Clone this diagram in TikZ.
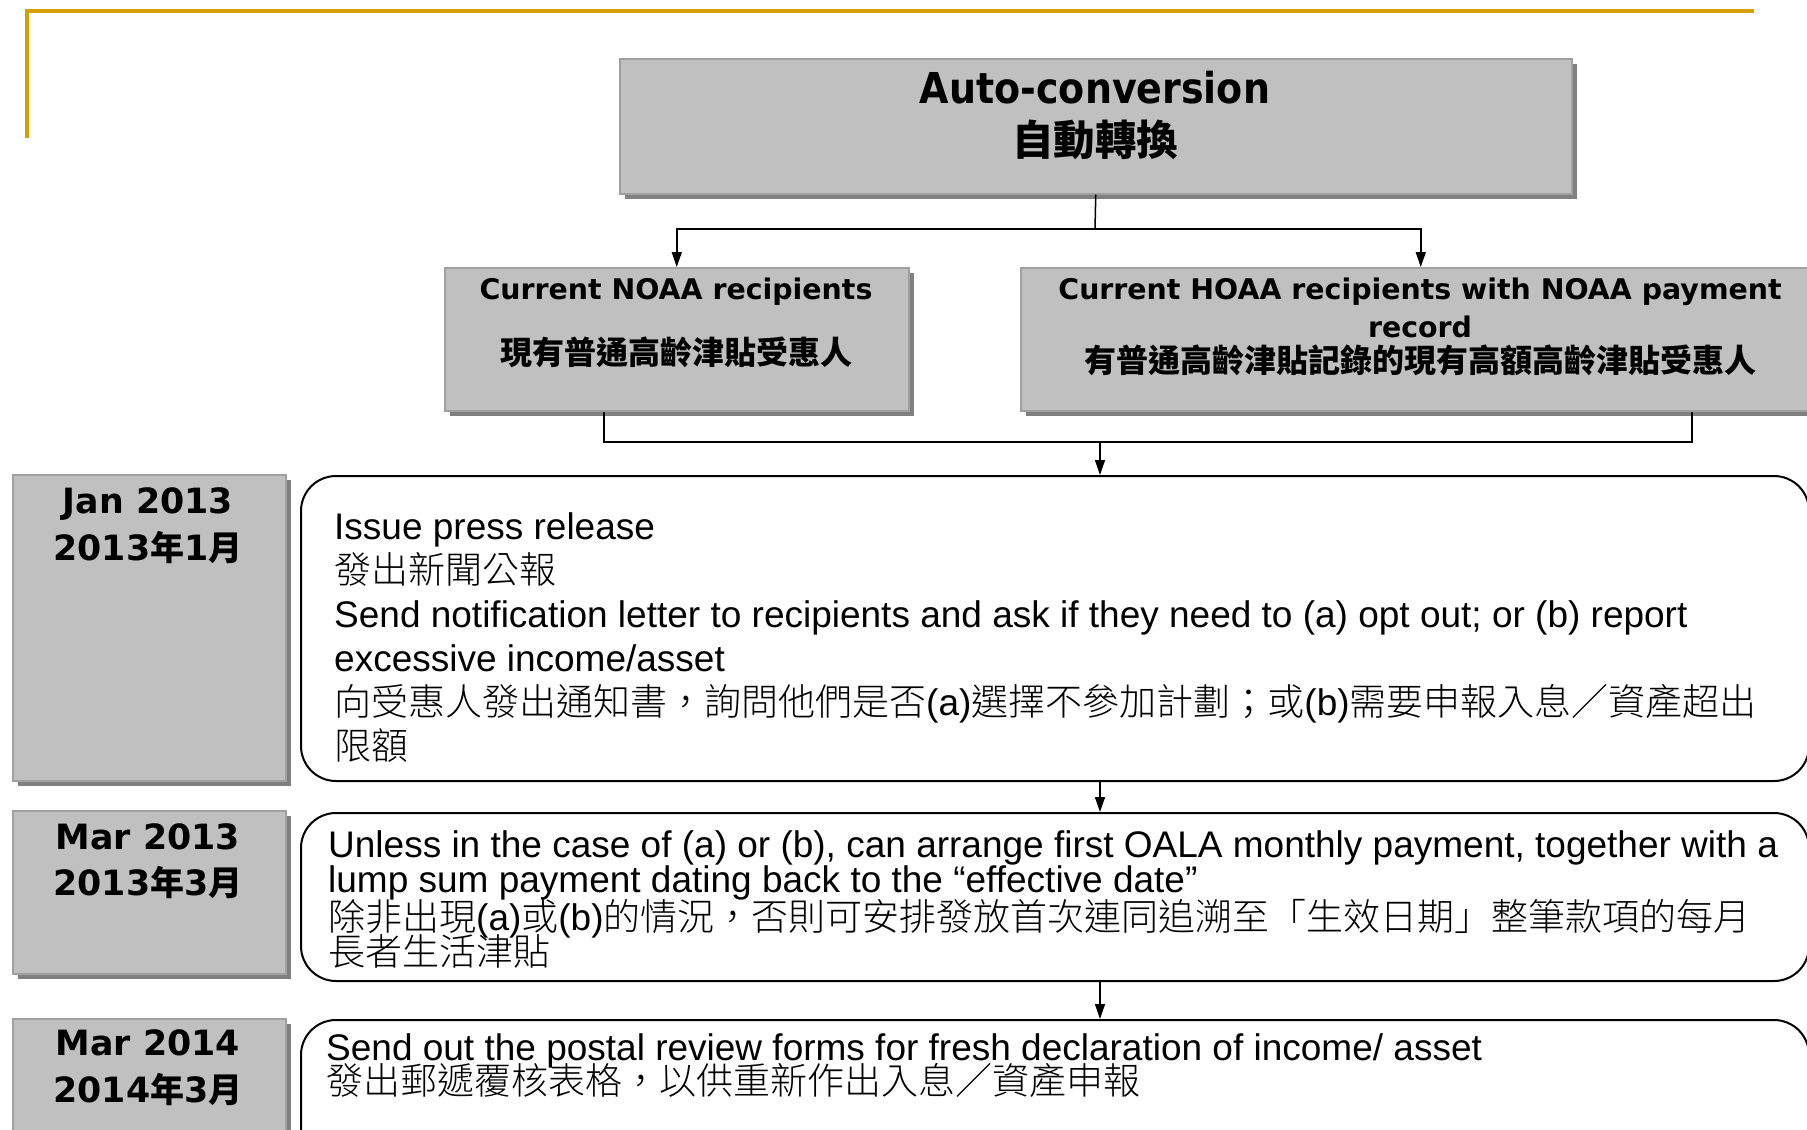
\documentclass[tikz,border=0pt]{standalone}
\usepackage{graphicx}
\usepackage{fontspec}
\usetikzlibrary{arrows.meta,shadows}
\setmainfont{Liberation Sans}
\newfontfamily\tahfont{DejaVu Sans}
\newfontfamily\cjkfont{Noto Sans CJK TC}
\newfontfamily\cjklfont{Noto Sans CJK TC Light}
\newcommand\hb[2]{{\tahfont\bfseries\fontsize{#1bp}{#1bp}\selectfont #2}}
\newcommand\cb[2]{{\cjkfont\bfseries\fontsize{#1bp}{#1bp}\selectfont #2}}
\newcommand\cl[1]{{\cjklfont #1}}
\definecolor{gold}{RGB}{214,160,0}
\definecolor{boxfill}{RGB}{192,192,192}
\definecolor{boxline}{RGB}{160,160,160}
\definecolor{shadowgray}{RGB}{128,128,128}
\tikzset{
  conn/.style={line width=1.5bp},
  arr/.style={line width=1.5bp,-{Triangle[length=15bp,width=10bp]}},
  gbox/.style={draw=boxline,fill=boxfill,line width=1.5bp,inner sep=0,
    drop shadow={shadow xshift=5bp,shadow yshift=-5bp,fill=shadowgray,opacity=1}},
  rbox/.style={draw=black,fill=white,line width=2bp,rounded corners=35bp,inner sep=0},
  body/.style={inner sep=0,anchor=base west,font=\fontsize{37bp}{44bp}\selectfont},
  lab/.style={inner sep=0,anchor=base},
}
\begin{document}
\begin{tikzpicture}[x=1bp,y=-1bp]
\useasboundingbox (0,0) rectangle (1807,1129);
\fill[white] (0,0) rectangle (1807,1129);
\clip (0,0) rectangle (1807,1129);
% gold frame
\draw[gold,line width=3.5bp] (1754,11) -- (27,11) -- (27,138);
% top box
\node[gbox,anchor=north west,minimum width=952bp,minimum height=135bp] (auto) at (619,58) {};
\node[lab] (autoen) at (1095,103) {\scalebox{1}[1.12]{\hb{38}{Auto-conversion}}};
\node[lab] (autozh) at (1095,155) {\cb{41.5}{自動轉換}};
% second row boxes
\node[gbox,anchor=north west,minimum width=464bp,minimum height=143bp] (noaa) at (444,267) {};
\node[lab] (noaaen) at (676,299) {\hb{28.4}{Current NOAA recipients}};
\node[lab] (noaazh) at (676,364) {\cb{32}{現有普通高齡津貼受惠人}};
\node[gbox,anchor=north west,minimum width=800bp,minimum height=143bp] (hoaa) at (1020,267) {};
\node[lab] (hoaaen1) at (1420,299) {\hb{28.4}{Current HOAA recipients with NOAA payment}};
\node[lab] (hoaaen2) at (1420,337) {\hb{28.4}{record}};
\node[lab] (hoaazh) at (1420,372) {\cb{32}{有普通高齡津貼記錄的現有高額高齡津貼受惠人}};
% connectors top
\coordinate (j1) at (1095,229);
\draw[conn] (auto.south) -- (j1);
\draw[arr] (j1) -| (noaa.north);
\draw[arr] (j1) -| (hoaa.north);
% steps
\node[gbox,anchor=north west,minimum width=273bp,minimum height=306bp] (d1) at (12,474) {};
\node[lab] (d1en) at (148,513) {\hb{34.8}{Jan 2013}};
\node[lab] (d1zh) at (148,560) {\hb{34.8}{2013}\cb{34}{年}\hb{34.8}{1}\cb{34}{月}};
\node[rbox,anchor=north west,minimum width=1508bp,minimum height=305bp] (s1) at (300,475) {};
\node[body] (l11) at (334,539.5) {Issue press release};
\node[body] (l12) at (334,583.5) {\cl{發出新聞公報}};
\node[body] (l13) at (334,627.5) {Send notification letter to recipients and ask if they need to (a) opt out; or (b) report};
\node[body] (l14) at (334,671.5) {excessive income/asset};
\node[body] (l15) at (334,715.5) {\cl{向受惠人發出通知書，詢問他們是否}(a)\cl{選擇不參加計劃；或}(b)\cl{需要申報入息／資產超出}};
\node[body] (l16) at (334,759.5) {\cl{限額}};

\node[gbox,anchor=north west,minimum width=273bp,minimum height=163bp] (d2) at (12,810) {};
\node[lab] (d2en) at (148,849) {\hb{34.8}{Mar 2013}};
\node[lab] (d2zh) at (148,895) {\hb{34.8}{2013}\cb{34}{年}\hb{34.8}{3}\cb{34}{月}};
\node[rbox,anchor=north west,minimum width=1508bp,minimum height=168bp] (s2) at (300,812) {};
\node[body] (l21) at (328,857) {Unless in the case of (a) or (b), can arrange first OALA monthly payment, together with a};
\node[body] (l22) at (328,892) {lump sum payment dating back to the “effective date”};
\node[body] (l23) at (328,930) {\cl{除非出現}(a)\cl{或}(b)\cl{的情況，否則可安排發放首次連同追溯至「生效日期」整筆款項的每月}};
\node[body] (l24) at (328,965) {\cl{長者生活津貼}};

\node[gbox,anchor=north west,minimum width=273bp,minimum height=160bp] (d3) at (12,1018) {};
\node[lab] (d3en) at (148,1055) {\hb{34.8}{Mar 2014}};
\node[lab] (d3zh) at (148,1102) {\hb{34.8}{2014}\cb{34}{年}\hb{34.8}{3}\cb{34}{月}};
\node[rbox,anchor=north west,minimum width=1508bp,minimum height=160bp] (s3) at (300,1019) {};
\node[body] (l31) at (326,1060) {Send out the postal review forms for fresh declaration of income/ asset};
\node[body] (l32) at (326,1094) {\cl{發出郵遞覆核表格，以供重新作出入息／資產申報}};
% connectors bottom
\coordinate (j2l) at (604,442);
\coordinate (j2r) at (1692,442);
\coordinate (j2m) at (1100,442);
\draw[conn] (j2l |- noaa.south) -- (j2l) -- (j2r) -- (j2r |- hoaa.south);
\draw[arr] (j2m) -- (j2m |- s1.north);
\draw[arr] (s1.south -| j2m) -- (s2.north -| j2m);
\draw[arr] (s2.south -| j2m) -- (s3.north -| j2m);
\end{tikzpicture}
\end{document}
